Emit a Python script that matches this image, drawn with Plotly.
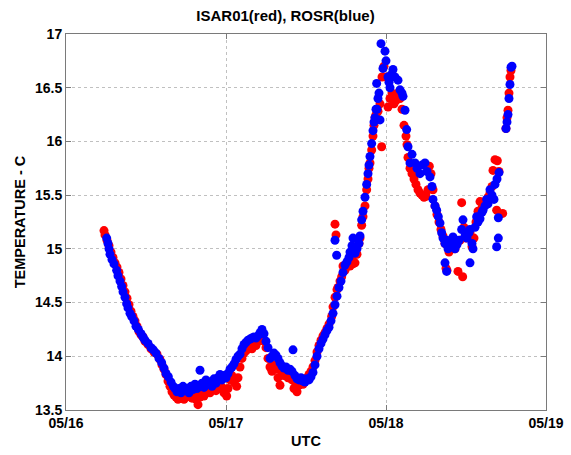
import pandas as pd
import plotly.graph_objects as go

# hours after 05/16 00:00 UTC and temperatures (C)
red_hours = [5.7, 5.85, 6.15, 6.45, 6.75, 7.05, 7.35, 7.65, 7.95, 8.25, 8.55, 8.85, 9.15, 9.45, 9.75, 10.05, 10.35, 10.65, 10.95, 11.25, 11.55, 11.85, 12.3, 12.75, 13.2, 13.65, 14.1, 14.4, 14.7, 15.0, 15.3, 15.6, 15.9, 16.2, 16.5, 16.8, 17.1, 17.4, 17.7, 18.0, 18.3, 18.6, 18.9, 19.2, 19.5, 19.8, 20.1, 20.4, 20.7, 21.0, 21.3, 21.6, 21.9, 22.2, 22.5, 22.8, 23.1, 23.4, 23.7, 24.1, 24.3, 24.6, 24.9, 25.2, 25.6, 25.8, 26.1, 26.4, 26.7, 27.0, 27.3, 27.6, 27.9, 28.2, 28.5, 28.8, 29.1, 29.4, 29.7, 30.0, 30.3, 30.6, 30.9, 31.2, 31.5, 31.8, 32.1, 32.4, 32.7, 33.0, 33.3, 33.6, 33.9, 34.2, 34.5, 34.65, 34.95, 35.25, 35.55, 35.85, 36.15, 36.45, 36.75, 37.05, 37.35, 37.65, 37.95, 38.25, 38.55, 38.85, 39.15, 39.45, 39.85, 40.05, 40.35, 40.65, 40.8, 41.1, 41.35, 41.55, 40.35, 40.5, 41.85, 42.15, 42.45, 42.6, 42.9, 43.05, 43.35, 43.65, 43.95, 44.1, 44.35, 44.55, 44.85, 45.1, 45.3, 45.45, 45.6, 45.85, 46.05, 46.2, 46.35, 46.5, 46.65, 46.8, 47.35, 47.1, 47.4, 47.7, 48.0, 48.3, 48.6, 48.9, 49.2, 49.5, 49.8, 50.1, 50.4, 50.7, 51.0, 51.15, 51.3, 51.6, 51.9, 52.2, 52.5, 52.8, 53.1, 53.4, 53.7, 54.0, 54.3, 54.5, 54.75, 55.05, 55.35, 55.65, 55.95, 56.25, 56.55, 56.85, 57.0, 57.15, 57.45, 57.75, 58.05, 58.35, 58.65, 58.8, 59.1, 59.35, 59.5, 59.7, 60.0, 60.3, 60.6, 60.9, 61.2, 61.5, 61.8, 62.1, 62.4, 62.7, 63.0, 63.3, 63.6, 63.9, 64.05, 64.35, 64.7, 64.95, 64.6, 65.5, 66.0, 66.15, 66.3, 66.45, 66.6, 66.75]
red_temp = [15.17, 15.13, 15.08, 15.03, 14.97, 14.92, 14.87, 14.83, 14.78, 14.72, 14.66, 14.60, 14.54, 14.48, 14.42, 14.37, 14.33, 14.28, 14.23, 14.20, 14.18, 14.14, 14.11, 14.07, 14.04, 14.02, 13.97, 13.92, 13.88, 13.83, 13.77, 13.72, 13.67, 13.64, 13.62, 13.60, 13.61, 13.63, 13.60, 13.62, 13.65, 13.63, 13.61, 13.64, 13.60, 13.55, 13.62, 13.66, 13.63, 13.68, 13.70, 13.66, 13.69, 13.73, 13.68, 13.70, 13.74, 13.71, 13.66, 13.63, 13.70, 13.78, 13.82, 13.76, 13.72, 13.80, 13.90, 13.98, 14.03, 14.05, 14.08, 14.10, 14.07, 14.12, 14.10, 14.14, 14.16, 14.18, 14.14, 14.08, 13.98, 13.90, 13.86, 13.92, 13.88, 13.80, 13.73, 13.84, 13.82, 13.86, 13.80, 13.83, 13.78, 13.70, 13.74, 13.67, 13.73, 13.76, 13.74, 13.78, 13.80, 13.83, 13.86, 13.90, 13.96, 14.04, 14.10, 14.15, 14.19, 14.22, 14.26, 14.30, 14.37, 14.46, 14.55, 14.62, 14.64, 14.70, 14.74, 14.84, 15.23, 15.13, 14.80, 14.86, 14.90, 14.84, 14.90, 14.86, 14.87, 14.95, 15.05, 15.10, 15.22, 15.30, 15.40, 15.55, 15.65, 15.75, 15.80, 15.92, 16.05, 16.15, 16.22, 16.25, 16.30, 16.28, 15.95, 16.35, 16.60, 16.70, 16.60, 16.32, 16.40, 16.45, 16.35, 16.38, 16.45, 16.40, 16.30, 16.15, 16.05, 15.97, 15.85, 15.75, 15.70, 15.65, 15.60, 15.55, 15.52, 15.50, 15.48, 15.49, 15.55, 15.77, 15.70, 15.55, 15.40, 15.32, 15.25, 15.18, 15.12, 15.05, 14.82, 14.80, 14.97, 15.05, 15.10, 15.00, 15.05, 14.79, 15.08, 15.43, 14.74, 15.20, 15.10, 15.12, 15.15, 15.02, 15.10, 15.25, 15.35, 15.44, 15.38, 15.40, 15.45, 15.48, 15.52, 15.58, 15.73, 15.83, 15.82, 15.72, 15.36, 15.33, 16.12, 16.22, 16.29, 16.45, 16.60, 16.66]

blue_hours = [6.1, 6.3, 6.45, 6.6, 6.9, 7.2, 7.6, 7.8, 8.1, 8.35, 8.55, 8.85, 9.1, 9.3, 9.6, 9.85, 10.2, 10.5, 10.85, 11.25, 11.55, 11.85, 12.3, 12.75, 13.1, 13.5, 13.95, 14.35, 14.7, 15.0, 15.35, 15.75, 16.1, 16.35, 16.65, 16.95, 17.25, 17.55, 17.85, 18.15, 18.45, 18.75, 19.05, 19.35, 19.65, 20.1, 19.95, 20.4, 20.7, 21.0, 21.3, 21.6, 21.9, 22.2, 22.5, 22.8, 23.1, 23.4, 23.7, 24.0, 24.3, 24.6, 24.9, 25.2, 25.5, 25.8, 26.1, 26.4, 26.7, 27.0, 27.3, 27.6, 27.9, 28.2, 28.5, 28.8, 29.1, 29.4, 29.7, 30.0, 30.3, 30.6, 30.9, 31.2, 31.5, 31.8, 32.1, 32.4, 32.7, 33.0, 33.3, 33.6, 33.9, 34.05, 34.35, 34.65, 34.95, 35.25, 35.55, 35.85, 36.15, 36.45, 36.75, 37.05, 37.35, 37.65, 37.95, 38.25, 38.55, 38.85, 39.15, 39.45, 39.75, 40.05, 40.35, 40.65, 40.95, 41.25, 41.55, 40.35, 40.6, 41.85, 42.15, 42.45, 42.6, 42.9, 43.05, 43.35, 43.65, 43.95, 44.1, 44.35, 44.55, 44.85, 45.1, 45.3, 45.45, 45.6, 45.85, 46.05, 46.2, 46.35, 46.5, 46.65, 46.8, 46.95, 46.6, 47.1, 47.25, 47.55, 47.85, 48.0, 48.3, 48.45, 48.6, 48.75, 49.05, 49.35, 49.8, 50.1, 50.4, 50.55, 50.85, 51.1, 51.3, 51.6, 51.9, 52.35, 52.65, 53.1, 53.4, 53.85, 54.15, 54.6, 54.9, 55.05, 55.35, 55.6, 55.85, 56.1, 56.35, 56.55, 56.85, 57.1, 57.3, 56.85, 57.1, 57.6, 57.9, 58.05, 58.35, 58.65, 58.95, 59.35, 59.55, 59.85, 60.15, 60.45, 60.6, 60.9, 61.05, 60.6, 61.35, 61.6, 61.8, 62.1, 62.4, 62.55, 62.85, 63.1, 63.3, 63.6, 63.9, 64.2, 64.35, 64.65, 64.85, 64.85, 64.6, 64.95, 66.0, 66.15, 66.3, 66.45, 66.6, 66.75, 66.9]
blue_temp = [15.10, 15.05, 15.00, 14.95, 14.90, 14.86, 14.80, 14.75, 14.70, 14.65, 14.60, 14.55, 14.49, 14.45, 14.40, 14.37, 14.33, 14.28, 14.25, 14.21, 14.18, 14.15, 14.12, 14.08, 14.06, 14.03, 13.98, 13.94, 13.89, 13.84, 13.81, 13.76, 13.72, 13.70, 13.67, 13.70, 13.66, 13.72, 13.68, 13.70, 13.66, 13.72, 13.69, 13.74, 13.70, 13.87, 13.72, 13.75, 13.71, 13.78, 13.74, 13.76, 13.72, 13.79, 13.75, 13.80, 13.83, 13.78, 13.82, 13.80, 13.84, 13.88, 13.90, 13.93, 13.97, 14.00, 14.02, 14.07, 14.11, 14.13, 14.15, 14.16, 14.17, 14.18, 14.17, 14.19, 14.22, 14.25, 14.21, 14.14, 14.08, 13.98, 14.00, 14.03, 14.01, 13.98, 13.94, 13.91, 13.89, 13.90, 13.87, 13.88, 13.86, 14.06, 13.82, 13.79, 13.78, 13.80, 13.77, 13.76, 13.79, 13.78, 13.81, 13.85, 13.92, 14.00, 14.07, 14.12, 14.16, 14.20, 14.24, 14.27, 14.33, 14.40, 14.48, 14.56, 14.64, 14.70, 14.78, 15.08, 14.94, 14.85, 14.88, 14.92, 14.97, 15.03, 15.10, 14.96, 15.00, 15.05, 15.12, 15.27, 15.35, 15.48, 15.60, 15.70, 15.78, 15.86, 15.98, 16.10, 16.18, 16.22, 16.30, 16.30, 16.40, 16.45, 16.54, 16.20, 16.91, 16.68, 16.84, 16.75, 16.60, 16.55, 16.50, 16.62, 16.67, 16.60, 16.57, 16.48, 16.45, 16.42, 16.29, 16.11, 15.95, 15.80, 15.88, 15.80, 15.75, 15.70, 15.78, 15.80, 15.72, 15.67, 15.58, 15.46, 15.40, 15.36, 15.30, 15.24, 15.15, 15.10, 15.05, 15.08, 15.00, 14.87, 14.79, 15.02, 15.05, 15.11, 15.00, 15.04, 15.08, 15.18, 15.27, 15.12, 15.10, 15.15, 15.18, 15.05, 15.00, 14.87, 15.20, 15.30, 15.25, 15.28, 15.34, 15.36, 15.40, 15.46, 15.42, 15.55, 15.50, 15.46, 15.60, 15.65, 15.29, 15.10, 15.02, 15.71, 16.12, 16.18, 16.25, 16.40, 16.53, 16.69, 16.70]

x_ticks = ["2015-05-16", "2015-05-17", "2015-05-18", "2015-05-19"]
x_tick_labels = ["05/16", "05/17", "05/18", "05/19"]
y_ticks = [13.5, 14, 14.5, 15, 15.5, 16, 16.5, 17]

base = pd.Timestamp("2015-05-16")
red_x = base + pd.to_timedelta(red_hours, unit="h")
blue_x = base + pd.to_timedelta(blue_hours, unit="h")

FONT = "Arial, Liberation Sans, Helvetica, sans-serif"

fig = go.Figure()
fig.add_trace(go.Scatter(x=red_x, y=red_temp, mode="markers",
                         marker=dict(color="#ff0000", size=9, line=dict(width=0)),
                         name="ISAR01"))
fig.add_trace(go.Scatter(x=blue_x, y=blue_temp, mode="markers",
                         marker=dict(color="#0000ff", size=9, line=dict(width=0)),
                         name="ROSR"))

axis_common = dict(showline=True, linecolor="#7a7a7a", linewidth=1, mirror="allticks",
                   ticks="inside", ticklen=5, tickcolor="#7a7a7a",
                   showgrid=True, gridcolor="#c0c0c0", griddash="dot", gridwidth=1,
                   zeroline=False, automargin=False,
                   tickfont=dict(family=FONT, size=14, color="black", weight="bold"))

fig.update_xaxes(type="date", range=[x_ticks[0], x_ticks[-1]],
                 tickvals=x_ticks, ticktext=x_tick_labels,
                 title=dict(text="UTC", font=dict(family=FONT, size=14.5, color="black", weight="bold"),
                            standoff=6),
                 **axis_common)
fig.update_yaxes(range=[13.5, 17], tickvals=y_ticks,
                 title=dict(text="TEMPERATURE - C", font=dict(family=FONT, size=14.5, color="black", weight="bold"),
                            standoff=5),
                 **axis_common)

fig.update_layout(
    width=571, height=455,
    margin=dict(l=66, r=25, t=34, b=45),
    paper_bgcolor="white", plot_bgcolor="white",
    showlegend=False,
    title=dict(text="ISAR01(red), ROSR(blue)", x=0.5, xanchor="center",
               y=0.965, yanchor="middle",
               font=dict(family=FONT, size=15, color="black", weight="bold")),
)

fig.write_html("out.html", config={"displayModeBar": False},
               post_script="document.body.style.margin='0';")
